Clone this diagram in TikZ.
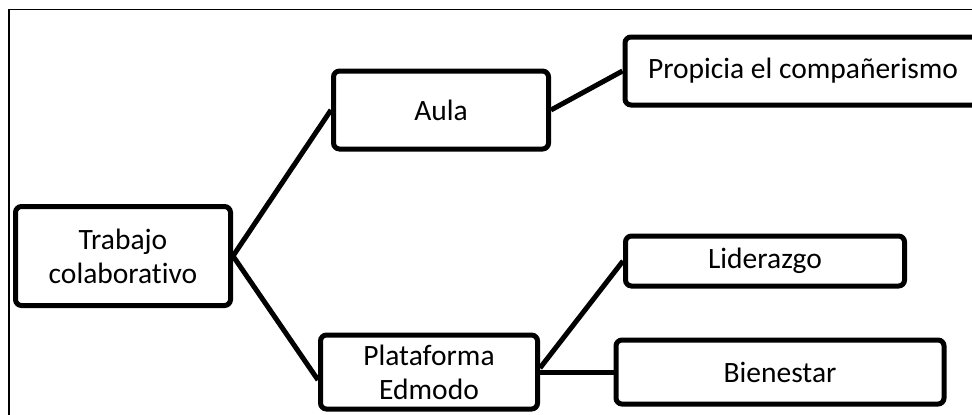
\documentclass[tikz,border=0pt]{standalone}
\usepackage{fontspec}
\setmainfont{Carlito}[Ligatures=NoCommon]
\usepackage{tikz}
\usetikzlibrary{positioning}

\tikzset{
  idea/.style={draw, line width=5pt, rounded corners=6pt, align=center,
    inner sep=0pt, font=\fontsize{29.5}{34}\selectfont},
  link/.style={line width=5pt}
}

\begin{document}
\begin{tikzpicture}[x=1pt, y=-1pt]
    \clip (0,0) rectangle (972,415);
    \useasboundingbox (0,0) rectangle (972,415);
    % frame
    \draw[line width=2pt] (9,415) -- (9,9);
    \draw[line width=1pt] (9,9) -- (972,9);

    \node[idea, minimum width=215pt, minimum height=99pt] (trabajo) at (123,256) {Trabajo\\colaborativo};
    \node[idea, minimum width=215pt, minimum height=78pt] (aula) at (441,110) {Aula};
    \node[idea, minimum width=217pt, minimum height=74pt] (plataforma) at (429,372) {Plataforma\\Edmodo};
    \node[idea, minimum width=356pt, minimum height=68pt] (propicia) at (803,71) {Propicia el compañerismo};
    \node[idea, minimum width=279pt, minimum height=50pt] (liderazgo) at (765,261) {Liderazgo};
    \node[idea, minimum width=328pt, minimum height=64pt] (bienestar) at (780,372) {Bienestar};

    \draw[link] (trabajo.east) -- (aula.west);
    \draw[link] (trabajo.east) -- ([yshift=-8pt]plataforma.west);
    \draw[link] (aula.east) -- (propicia.west);
    \draw[link] ([yshift=4pt]plataforma.east) -- (liderazgo.west);
    \draw[link] (plataforma.east) -- (bienestar.west);
  \end{tikzpicture}
\end{document}
